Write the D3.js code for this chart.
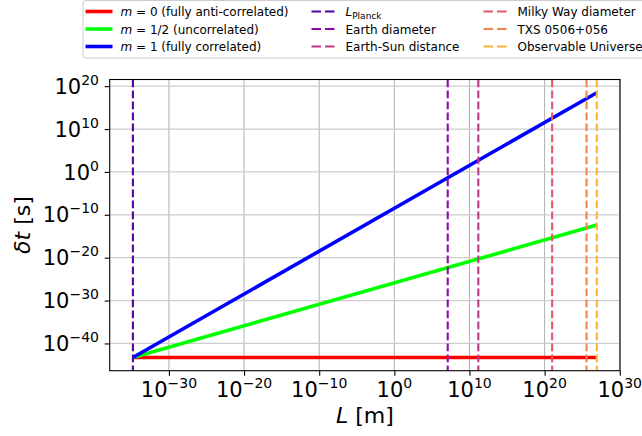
<!DOCTYPE html>
<html>
<head>
<meta charset="utf-8">
<script src="https://cdn.jsdelivr.net/npm/d3@7"></script>
<style>
  body { margin: 0; background: #fff; }
  svg { font-family: "DejaVu Sans", sans-serif; }
</style>
</head>
<body>
<div id="chart"></div>
<script>
// ---- data ----
var lengthEnds = [1.6e-35, 8.8e26];          // L range of the three curves [m]
var deltaT_m0  = [5.4e-44, 5.4e-44];          // m = 0
var deltaT_m05 = [5.4e-44, 4.0e-13];          // m = 1/2
var deltaT_m1  = [5.4e-44, 2.9e18];           // m = 1
var seriesNames = ["m0", "m05", "m1"];
var seriesColors = ["#ff0000", "#00ff00", "#0000ff"];

var scaleNames   = ["Planck", "Earth diameter", "Earth-Sun distance", "Milky Way diameter", "TXS 0506+056", "Observable Universe"];
var scaleLengths = [1.6e-35, 1.27e7, 1.5e11, 1.0e21, 3.8e25, 8.8e26];
var scaleColors  = ["#5302a3", "#8b0aa5", "#bd3786", "#e0586a", "#f2844b", "#fdb32f"];

var xTickExp = [-30, -20, -10, 0, 10, 20, 30];
var yTickExp = [-40, -30, -20, -10, 0, 10, 20];

// ---- layout ----
var width = 642, height = 436;
var plot = {left: 109.7, right: 620, top: 79.5, bottom: 370.7};

var svg = d3.select("#chart").append("svg")
    .attr("width", width)
    .attr("height", height);

// log-axis limits with a 5% margin in log space, like matplotlib autoscale
function logLimits(vals) {
    var lo = d3.min(vals, function(v){ return Math.log10(v); });
    var hi = d3.max(vals, function(v){ return Math.log10(v); });
    var pad = (hi - lo) * 0.05;
    return [Math.pow(10, lo - pad), Math.pow(10, hi + pad)];
}

var x = d3.scaleLog()
    .domain(logLimits(lengthEnds))
    .range([plot.left, plot.right]);
var y = d3.scaleLog()
    .domain(logLimits(deltaT_m0.concat(deltaT_m05, deltaT_m1)))
    .range([plot.bottom, plot.top]);

// grid
var grid = svg.append("g").attr("class", "grid");
grid.selectAll("line.gx")
    .data(xTickExp)
    .enter().append("line")
    .attr("class", "gx")
    .attr("x1", function(d){ return x(Math.pow(10, d)); })
    .attr("x2", function(d){ return x(Math.pow(10, d)); })
    .attr("y1", plot.top).attr("y2", plot.bottom)
    .attr("stroke", "#b0b0b0").attr("stroke-width", 1);
grid.selectAll("line.gy")
    .data(yTickExp)
    .enter().append("line")
    .attr("class", "gy")
    .attr("y1", function(d){ return y(Math.pow(10, d)); })
    .attr("y2", function(d){ return y(Math.pow(10, d)); })
    .attr("x1", plot.left).attr("x2", plot.right)
    .attr("stroke", "#cdcdcd").attr("stroke-width", 1.3);

// clip
svg.append("clipPath").attr("id", "clip")
    .append("rect")
    .attr("x", plot.left).attr("y", plot.top)
    .attr("width", plot.right - plot.left)
    .attr("height", plot.bottom - plot.top);

var marks = svg.append("g").attr("clip-path", "url(#clip)");

// curves
var curves = [deltaT_m0, deltaT_m05, deltaT_m1];
var line = d3.line()
    .x(function(d){ return x(d[0]); })
    .y(function(d){ return y(d[1]); });

curves.forEach(function(vals, i) {
    marks.append("path")
        .datum(d3.zip(lengthEnds, vals))
        .attr("class", "curve " + seriesNames[i])
        .attr("d", line)
        .attr("fill", "none")
        .attr("stroke", seriesColors[i])
        .attr("stroke-width", 3.6);
});

// vertical reference lengths
marks.selectAll("line.ref")
    .data(scaleLengths)
    .enter().append("line")
    .attr("class", "ref")
    .attr("x1", function(d){ return x(d); })
    .attr("x2", function(d){ return x(d); })
    .attr("y1", plot.top).attr("y2", plot.bottom)
    .attr("stroke", function(d, i){ return scaleColors[i]; })
    .attr("stroke-width", 2.1)
    .attr("stroke-dasharray", "7.7,3.3");

// frame
svg.append("rect")
    .attr("x", plot.left).attr("y", plot.top)
    .attr("width", plot.right - plot.left)
    .attr("height", plot.bottom - plot.top)
    .attr("fill", "none")
    .attr("stroke", "#000")
    .attr("stroke-width", 1.1);

// ticks (axis marks via d3 axes, labels written as 10^n with superscripts)
var xAxis = d3.axisBottom(x)
    .tickValues(xTickExp.map(function(e){ return Math.pow(10, e); }))
    .tickSize(5).tickFormat("");
svg.append("g")
    .attr("transform", "translate(0," + plot.bottom + ")")
    .call(xAxis)
    .call(function(g){ g.select(".domain").remove(); })
    .selectAll("line").attr("stroke", "#000").attr("stroke-width", 1.1);

var yAxis = d3.axisLeft(y)
    .tickValues(yTickExp.map(function(e){ return Math.pow(10, e); }))
    .tickSize(5).tickFormat("");
svg.append("g")
    .attr("transform", "translate(" + plot.left + ",0)")
    .call(yAxis)
    .call(function(g){ g.select(".domain").remove(); })
    .selectAll("line").attr("stroke", "#000").attr("stroke-width", 1.1);

function expText(e) {
    return e < 0 ? "\u2212" + (-e) : String(e);
}

var xLab = svg.append("g").selectAll("text")
    .data(xTickExp)
    .enter().append("text")
    .attr("x", function(d){ return x(Math.pow(10, d)); })
    .attr("y", 397)
    .attr("text-anchor", "middle")
    .attr("fill", "#000")
    .style("font-size", "21px");
xLab.append("tspan").text("10");
xLab.append("tspan").attr("dy", -9).style("font-size", "14px")
    .text(function(d){ return expText(d); });

var yLab = svg.append("g").selectAll("text")
    .data(yTickExp)
    .enter().append("text")
    .attr("x", 99)
    .attr("y", function(d){ return y(Math.pow(10, d)) + 7.6; })
    .attr("text-anchor", "end")
    .attr("fill", "#000")
    .style("font-size", "21px");
yLab.append("tspan").text("10");
yLab.append("tspan").attr("dy", -9).style("font-size", "14px")
    .text(function(d){ return expText(d); });

// axis titles
var xt = svg.append("text")
    .attr("x", (plot.left + plot.right) / 2)
    .attr("y", 423)
    .attr("text-anchor", "middle")
    .style("font-size", "22px");
xt.append("tspan").style("font-style", "italic").text("L");
xt.append("tspan").text(" [m]");

var yt = svg.append("text")
    .attr("transform", "translate(30," + ((plot.top + plot.bottom) / 2) + ") rotate(-90)")
    .attr("text-anchor", "middle")
    .style("font-size", "22px");
yt.append("tspan").style("font-style", "italic").text("\u03b4t");
yt.append("tspan").text(" [s]");

// legend
var legend = svg.append("g").attr("class", "legend");
legend.append("rect")
    .attr("x", 83).attr("y", 0.5)
    .attr("width", 580).attr("height", 57.5)
    .attr("rx", 3)
    .attr("fill", "#fff")
    .attr("stroke", "#cccccc");

var rowY = [11.5, 29, 46.5];
var colX = [85.5, 311.5, 483.5];
var handleLen = 24, textGap = 10;

// column 1: the curves
var curveLabels = [["m", " = 0 (fully anti-correlated)"],
                   ["m", " = 1/2 (uncorrelated)"],
                   ["m", " = 1 (fully correlated)"]];
curveLabels.forEach(function(lab, i) {
    legend.append("line")
        .attr("x1", colX[0]).attr("x2", colX[0] + 27)
        .attr("y1", rowY[i]).attr("y2", rowY[i])
        .attr("stroke", seriesColors[i]).attr("stroke-width", 3.6);
    var t = legend.append("text")
        .attr("x", colX[0] + 35).attr("y", rowY[i] + 4.5)
        .style("font-size", "12px");
    t.append("tspan").style("font-style", "italic").text(lab[0]);
    t.append("tspan").text(lab[1]);
});

// columns 2 and 3: reference lengths
scaleNames.forEach(function(name, i) {
    var col = i < 3 ? 1 : 2;
    var row = i % 3;
    legend.append("line")
        .attr("x1", colX[col]).attr("x2", colX[col] + handleLen)
        .attr("y1", rowY[row]).attr("y2", rowY[row])
        .attr("stroke", scaleColors[i]).attr("stroke-width", 2.1)
        .attr("stroke-dasharray", "9.5,4");
    var t = legend.append("text")
        .attr("x", colX[col] + handleLen + textGap).attr("y", rowY[row] + 4.5)
        .style("font-size", "12px");
    if (i === 0) {
        t.append("tspan").style("font-style", "italic").text("L");
        t.append("tspan").attr("dy", 3).style("font-size", "9px").text(name);
    } else {
        t.text(name);
    }
});
</script>
</body>
</html>
